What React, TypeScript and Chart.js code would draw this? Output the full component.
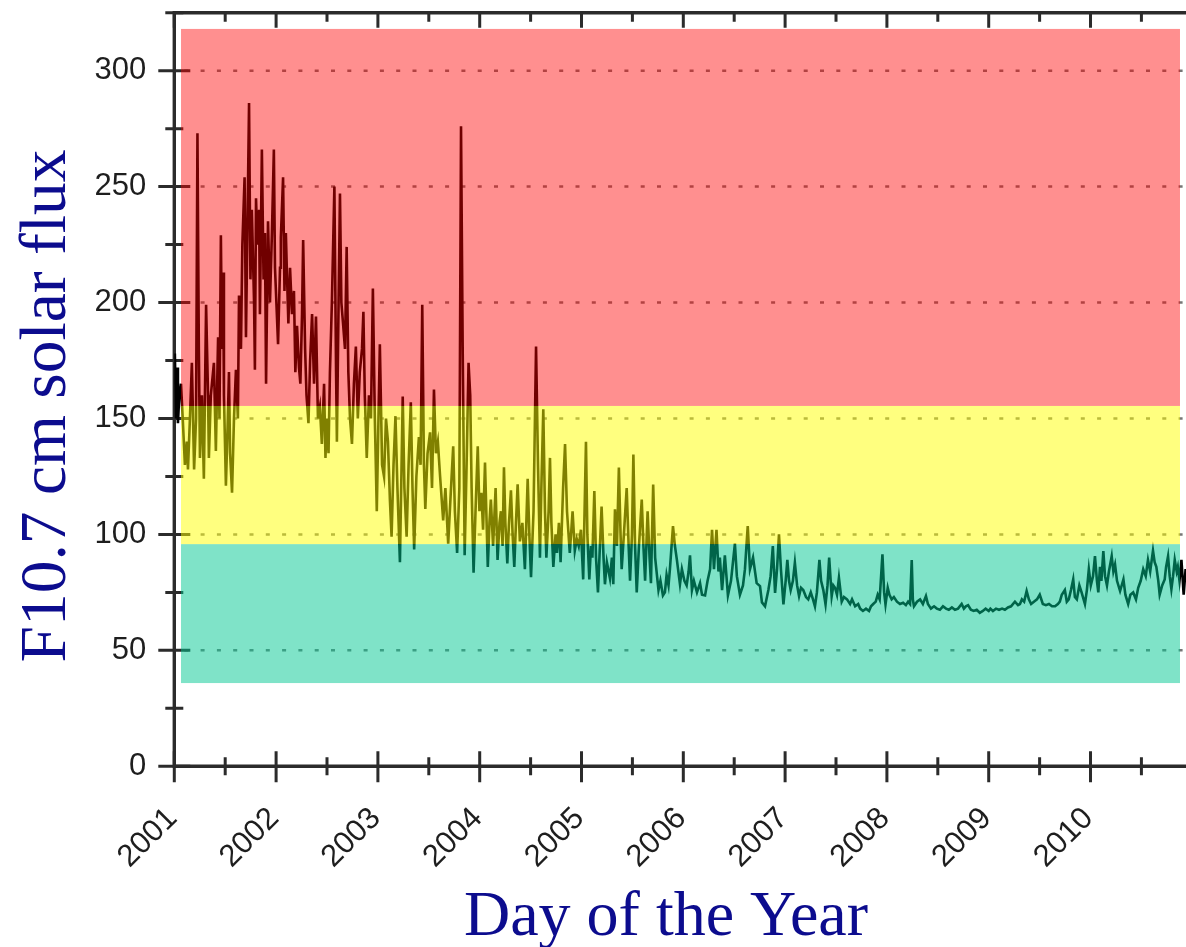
import React, { useEffect, useRef } from 'react';
import { Chart, registerables } from 'chart.js';

Chart.register(...registerables);

// Daily F10.7 readings, sampled as [day of year, solar flux units]
const flux2001: [number, number][] = [
  [0, 165], [2, 178], [6, 150], [10, 172], [13, 148], [18, 160], [24, 165], [31, 148], [38, 130], [45, 140],
  [49, 128], [56, 150], [63, 174], [71, 128], [78, 150], [83, 273], [88, 180], [92, 133], [99, 160], [106, 124],
  [114, 199], [121, 160], [124, 133], [131, 160], [142, 174], [149, 136], [157, 185], [162, 150], [167, 229], [171, 180],
  [175, 213], [178, 160], [185, 121], [192, 150], [196, 170], [200, 135], [207, 118], [214, 150], [221, 171], [228, 150],
  [232, 203], [239, 180], [244, 225], [252, 254], [257, 185], [262, 230], [268, 286], [273, 210], [278, 240], [286, 200],
  [289, 171], [293, 245], [298, 225], [304, 240], [307, 195], [314, 266], [320, 210], [325, 230], [329, 165], [336, 235],
  [343, 200], [350, 230], [357, 266], [361, 215],
];
const flux2002: [number, number][] = [
  [7, 182], [14, 215], [17, 228], [25, 254], [30, 205], [35, 230], [39, 212], [44, 191], [50, 215], [57, 195],
  [64, 205], [69, 170], [75, 190], [82, 172], [87, 165], [93, 195], [97, 227], [104, 180], [109, 160], [116, 148],
  [122, 175], [129, 195], [136, 165], [143, 194], [150, 150], [157, 155], [164, 139], [172, 165], [177, 133], [182, 150],
  [188, 135], [193, 170], [200, 200], [209, 250], [215, 170], [218, 140], [224, 200], [229, 247], [234, 200], [240, 191],
  [247, 180], [253, 224], [259, 170], [265, 150], [272, 139], [279, 165], [286, 181], [293, 150], [300, 170], [308, 180],
  [313, 196], [318, 160], [325, 133], [333, 160], [340, 150], [347, 206], [354, 150], [361, 110],
];
const flux2003: [number, number][] = [
  [2, 150], [7, 182], [15, 130], [22, 125], [29, 150], [36, 140], [43, 115], [49, 99], [56, 130], [63, 151],
  [70, 120], [79, 88], [89, 159.5], [95, 120], [103, 99], [110, 130], [118, 157], [124, 120], [130, 93.5], [138, 125],
  [147, 142], [153, 130], [159, 199], [165, 130], [170, 111], [178, 135], [187, 144], [194, 120], [201, 162.5], [208, 135],
  [215, 140], [223, 125], [234, 106], [242, 120], [252, 96], [260, 115], [270, 138], [276, 110], [284, 92], [292, 120],
  [298, 276], [304, 180], [311, 91], [318, 130], [325, 174], [331, 160], [336, 120], [343, 83.5], [350, 110], [358, 138],
  [364, 110],
];
const flux2004: [number, number][] = [
  [6, 118], [12, 102], [19, 131], [29, 86], [35, 105], [40, 115], [48, 95], [57, 120], [64, 89], [71, 105],
  [76, 110], [82, 95], [87, 129], [92, 105], [99, 87.5], [105, 105], [112, 119], [118, 100], [124, 86], [130, 105],
  [136, 121.6], [144, 97], [153, 105], [162, 85], [172, 124], [178, 100], [184, 81.5], [193, 110], [202, 181], [209, 130],
  [216, 90], [221, 120], [228, 154], [234, 110], [239, 90], [247, 110], [252, 133], [257, 105], [264, 86], [272, 100],
  [277, 92], [284, 105], [290, 88], [299, 120], [306, 139], [313, 110], [323, 92], [333, 110], [341, 93], [348, 98],
  [355, 95], [363, 102],
];
const flux2005: [number, number][] = [
  [6, 80.6], [16, 140], [21, 100], [28, 80.6], [34, 95], [39, 90], [46, 118.7], [52, 90], [59, 75], [66, 95],
  [72, 112], [79, 90], [84, 78.5], [91, 88], [102, 81], [109, 90], [114, 78.5], [120, 110.8], [127, 95], [134, 128.8],
  [140, 100], [144, 85], [152, 100], [162, 120], [169, 95], [174, 80], [181, 100], [186, 134.5], [192, 95], [198, 75],
  [206, 95], [216, 115], [222, 95], [228, 80], [237, 110], [244, 90], [249, 79], [257, 121.5], [264, 90], [270, 83],
  [276, 76], [283, 80], [292, 73.7], [299, 75], [305, 82.5], [312, 78], [317, 85], [328, 103.6], [335, 95], [342, 89],
  [353, 78.5], [360, 85],
];
const flux2006: [number, number][] = [
  [4, 80], [12, 78], [19, 84], [24, 91], [31, 76], [38, 80], [49, 75], [60, 79], [67, 74], [78, 73.7],
  [87, 80], [96, 85], [103, 102], [110, 85], [119, 102], [126, 84], [131, 90], [139, 76], [149, 91], [160, 73.7],
  [171, 80], [178, 88], [185, 96], [192, 82], [203, 74], [214, 78], [221, 85], [231, 103.6], [239, 85], [250, 90],
  [263, 79], [275, 77.7], [282, 70.7], [293, 69], [305, 76], [313, 82], [321, 95], [329, 74.8], [336, 85], [343, 100],
  [350, 85], [359, 69.8],
];
const flux2007: [number, number][] = [
  [2, 80], [8, 89], [14, 80], [20, 76], [28, 80], [35, 87.8], [43, 78], [50, 73.4], [57, 77], [65, 76],
  [75, 73], [83, 72], [92, 75], [100, 72], [107, 69], [114, 75], [123, 89], [129, 80], [137, 76], [145, 69.8],
  [152, 78], [158, 90], [167, 73.4], [173, 78], [179, 77], [186, 74], [193, 81.3], [203, 71], [211, 73], [222, 72],
  [233, 70], [240, 72], [251, 69], [262, 70], [269, 68], [279, 67], [290, 68], [301, 67], [308, 69], [316, 70],
  [325, 71], [332, 74], [339, 72], [349, 91.4], [355, 75], [360, 69.8],
];
const flux2008: [number, number][] = [
  [3, 77], [9, 74], [17, 72], [25, 73], [36, 71], [47, 70], [58, 70.5], [68, 69.5], [76, 71], [83, 70],
  [89, 89], [93, 72], [97, 69], [108, 71], [119, 72], [129, 70], [140, 73.4], [147, 70], [158, 68], [169, 69],
  [179, 68], [190, 67.5], [201, 69], [212, 68], [222, 67.5], [233, 68.5], [244, 67.5], [255, 68], [268, 70], [276, 68],
  [283, 69], [291, 69.5], [301, 67.5], [311, 67], [322, 67.5], [333, 66.2], [344, 67], [354, 68],
];
const flux2009: [number, number][] = [
  [0, 67], [6, 68], [15, 67], [26, 68], [37, 67.5], [48, 68], [58, 67.5], [69, 68.5], [80, 69], [94, 71],
  [105, 69.5], [112, 70], [119, 72], [127, 71], [136, 75.6], [144, 72], [152, 70], [162, 71], [173, 72], [183, 74],
  [194, 70], [205, 69.5], [216, 70], [227, 69], [238, 69], [248, 70], [255, 71], [262, 74], [273, 76], [280, 71],
  [287, 72], [295, 76], [303, 80.6], [309, 73], [316, 72], [325, 78], [333, 75], [345, 70], [352, 76], [359, 85],
];
const flux2010: [number, number][] = [
  [1, 78], [9, 82], [16, 90.6], [23, 80], [28, 75], [34, 86], [39, 80], [46, 92.8], [52, 82], [59, 78],
  [66, 84], [76, 90.6], [82, 84], [88, 87], [95, 80], [106, 75.6], [118, 80.6], [125, 74], [135, 70], [143, 74],
  [153, 75], [163, 72], [171, 77], [180, 80], [189, 85], [198, 82], [206, 89], [214, 84], [224, 93], [230, 88],
  [236, 86], [243, 80], [248, 74], [257, 78], [266, 80.6], [271, 86], [278, 90.6], [284, 82], [290, 76.4], [296, 82],
  [302, 89], [309, 84], [313, 86], [319, 80], [326, 89], [334, 74], [341, 85], [345, 80],
];

const fluxByYear: [number, [number, number][]][] = [
  [2001, flux2001], [2002, flux2002], [2003, flux2003], [2004, flux2004], [2005, flux2005],
  [2006, flux2006], [2007, flux2007], [2008, flux2008], [2009, flux2009], [2010, flux2010],
];

// Axis ticks
const yearTicks = [2001, 2002, 2003, 2004, 2005, 2006, 2007, 2008, 2009, 2010];
const halfYearTicks = [2001.5, 2002.5, 2003.5, 2004.5, 2005.5, 2006.5, 2007.5, 2008.5, 2009.5, 2010.5];
const fluxMajorTicks = [0, 50, 100, 150, 200, 250, 300];
const fluxMinorTicks = [25, 75, 125, 175, 225, 275, 325];
const xMin = 2001;
const xMax = 2010.938;
const yMin = 0;
const yMax = 325;

// Activity levels: [lower flux, upper flux, colour]
const bandLow: [number, number, string] = [35.9, 95.8, 'rgba(0, 200, 145, 0.5)'];
const bandModerate: [number, number, string] = [95.8, 155.4, 'rgba(255, 255, 0, 0.5)'];
const bandHigh: [number, number, string] = [155.4, 318, 'rgba(255, 0, 0, 0.44)'];
const bandStartYear = 2001.066;
const bandEndYear = 2010.879;

const xTitle = 'Day of the Year';
const yTitle = 'F10.7 cm solar flux';

const AXIS_COLOR = '#2b2b2b';
const TITLE_COLOR = '#0c0c8e';

const framePlugin = {
  id: 'frameAndGrid',
  beforeDatasetsDraw(chart: any) {
    const { ctx, chartArea: a, scales } = chart;
    const xs = scales.x;
    const ys = scales.y;
    ctx.save();
    // dotted horizontal grid
    ctx.strokeStyle = 'rgba(60, 60, 60, 0.7)';
    ctx.lineWidth = 2.5;
    ctx.setLineDash([4, 12.3]);
    for (const v of fluxMajorTicks) {
      if (v === 0) continue;
      const y = ys.getPixelForValue(v);
      ctx.beginPath();
      ctx.moveTo(a.left + 10, y);
      ctx.lineTo(a.right, y);
      ctx.stroke();
    }
    ctx.setLineDash([]);
    // frame
    ctx.strokeStyle = AXIS_COLOR;
    ctx.lineWidth = 3.4;
    ctx.beginPath();
    ctx.moveTo(a.left, a.top);
    ctx.lineTo(a.left, a.bottom);
    ctx.moveTo(a.left - 1.7, a.bottom);
    ctx.lineTo(a.right, a.bottom);
    ctx.moveTo(a.left - 1.7, a.top);
    ctx.lineTo(a.right, a.top);
    ctx.stroke();
    // tick marks
    ctx.lineWidth = 3;
    ctx.beginPath();
    for (const v of fluxMajorTicks) {
      const y = ys.getPixelForValue(v);
      ctx.moveTo(a.left - 16, y);
      ctx.lineTo(a.left + 16, y);
    }
    for (const v of fluxMinorTicks) {
      const y = ys.getPixelForValue(v);
      ctx.moveTo(a.left - 9, y);
      ctx.lineTo(a.left + 9, y);
    }
    for (const v of yearTicks) {
      const x = xs.getPixelForValue(v);
      ctx.moveTo(x, a.bottom - 15);
      ctx.lineTo(x, a.bottom + 16);
      ctx.moveTo(x, a.top);
      ctx.lineTo(x, a.top + 15);
    }
    for (const v of halfYearTicks) {
      const x = xs.getPixelForValue(v);
      ctx.moveTo(x, a.bottom - 9);
      ctx.lineTo(x, a.bottom + 9);
      ctx.moveTo(x, a.top);
      ctx.lineTo(x, a.top + 9);
    }
    ctx.stroke();
    ctx.restore();
  },
  afterDatasetsDraw(chart: any) {
    const { ctx, scales } = chart;
    const xs = scales.x;
    const ys = scales.y;
    const x0 = xs.getPixelForValue(bandStartYear);
    const x1 = xs.getPixelForValue(bandEndYear);
    ctx.save();
    for (const [lo, hi, color] of [bandHigh, bandModerate, bandLow]) {
      const yTop = ys.getPixelForValue(hi);
      const yBot = ys.getPixelForValue(lo);
      ctx.fillStyle = color;
      ctx.fillRect(x0, yTop, x1 - x0, yBot - yTop);
    }
    ctx.restore();
  },
  afterDraw(chart: any) {
    const { ctx } = chart;
    ctx.save();
    ctx.fillStyle = TITLE_COLOR;
    ctx.textAlign = 'center';
    ctx.textBaseline = 'alphabetic';
    ctx.font = '64px "Liberation Serif", "Times New Roman", serif';
    ctx.fillText(xTitle, 666, 935);
    ctx.font = '65.5px "Liberation Serif", "Times New Roman", serif';
    ctx.translate(65, 406);
    ctx.rotate(-Math.PI / 2);
    ctx.fillText(yTitle, 0, 0);
    ctx.restore();
  },
};

export default function App() {
  const canvasRef = useRef<HTMLCanvasElement>(null);

  useEffect(() => {
    const canvas = canvasRef.current;
    if (!canvas) return;
    const points = fluxByYear.flatMap(([year, rows]) =>
      rows.map(([day, flux]) => ({ x: year + day / 365, y: flux }))
    );
    const tickFont = { family: '"Liberation Sans", Arial, sans-serif', size: 31 };
    const chart = new Chart(canvas, {
      type: 'line',
      data: {
        datasets: [
          {
            label: yTitle,
            data: points,
            borderColor: '#000000',
            borderWidth: 2.6,
            pointRadius: 0,
            tension: 0,
            fill: false,
          },
        ],
      },
      options: {
        animation: false,
        responsive: false,
        devicePixelRatio: 1,
        layout: { padding: { top: 12.7, left: 0, right: 0, bottom: 0 } },
        plugins: { legend: { display: false }, tooltip: { enabled: false } },
        scales: {
          x: {
            type: 'linear',
            min: xMin,
            max: xMax,
            grid: { display: false, drawTicks: false },
            border: { display: false },
            afterBuildTicks: (s: any) => {
              s.ticks = [...yearTicks, ...halfYearTicks].sort((p, q) => p - q).map((v) => ({ value: v }));
            },
            afterFit: (s: any) => {
              s.height = 947 - 766.3;
              s.paddingLeft = 0;
              s.paddingRight = 0;
            },
            ticks: {
              autoSkip: false,
              minRotation: 45,
              maxRotation: 45,
              labelOffset: -2,
              padding: 34,
              color: '#1e1e1e',
              font: tickFont,
              callback: (v: any) => (Number.isInteger(v) ? String(v) : ''),
            },
          },
          y: {
            type: 'linear',
            min: yMin,
            max: yMax,
            grid: { display: false, drawTicks: false },
            border: { display: false },
            afterBuildTicks: (s: any) => {
              s.ticks = [...fluxMajorTicks, ...fluxMinorTicks].sort((p, q) => p - q).map((v) => ({ value: v }));
            },
            afterFit: (s: any) => {
              s.width = 174.3;
              s.paddingTop = 0;
              s.paddingBottom = 0;
            },
            ticks: {
              autoSkip: false,
              padding: 28,
              color: '#1e1e1e',
              font: tickFont,
              callback: (v: any) => (v % 50 === 0 ? String(v) : ''),
            },
          },
        },
      },
      plugins: [framePlugin],
    });
    return () => chart.destroy();
  }, []);

  return (
    <div style={{ position: 'fixed', left: 0, top: 0, width: 1186, height: 947, background: '#ffffff' }}>
      <canvas ref={canvasRef} width={1186} height={947} style={{ display: 'block', width: 1186, height: 947 }} />
    </div>
  );
}
